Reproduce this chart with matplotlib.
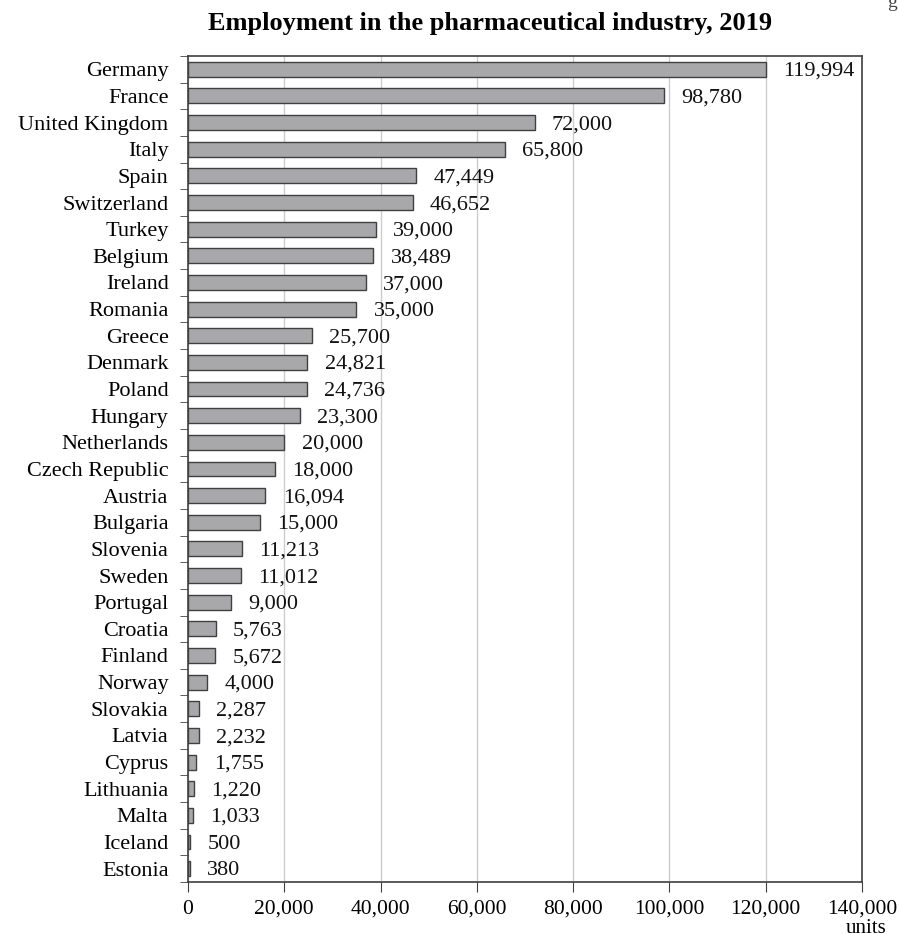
import numpy as np
import matplotlib.pyplot as plt

countries = ['Germany', 'France', 'United Kingdom', 'Italy', 'Spain', 'Switzerland',
             'Turkey', 'Belgium', 'Ireland', 'Romania', 'Greece', 'Denmark', 'Poland',
             'Hungary', 'Netherlands', 'Czech Republic', 'Austria', 'Bulgaria',
             'Slovenia', 'Sweden', 'Portugal', 'Croatia', 'Finland', 'Norway',
             'Slovakia', 'Latvia', 'Cyprus', 'Lithuania', 'Malta', 'Iceland', 'Estonia']
employment = [119994, 98780, 72000, 65800, 47449, 46652, 39000, 38489, 37000, 35000,
              25700, 24821, 24736, 23300, 20000, 18000, 16094, 15000, 11213, 11012,
              9000, 5763, 5672, 4000, 2287, 2232, 1755, 1220, 1033, 500, 380]

plt.rcParams['font.family'] = ['Liberation Serif', 'DejaVu Serif']

fig = plt.figure(figsize=(8.99, 9.34), dpi=100)
ax = fig.add_axes([0.2091, 0.0557, 0.7497, 0.8844])

y = np.arange(len(countries))
ax.barh(y, employment, height=0.56, color='#a8a7a9', edgecolor='#404040', linewidth=1.0, zorder=3)

# value labels just right of each bar
for yi, v in zip(y, employment):
    ax.text(v + 3600, yi + 0.08, f'{v:,}', va='center', ha='left', fontsize=16, color='#111111', zorder=4)

ax.set_xlim(0, 140000)
ax.set_ylim(len(countries) - 0.5, -0.5)
ax.set_xticks(np.arange(0, 140001, 20000))
ax.set_xticklabels([f'{v:,}' for v in range(0, 140001, 20000)], fontsize=15.5)
ax.set_yticks(y)
ax.set_yticklabels(countries, fontsize=16)
ax.set_yticks(np.arange(-0.5, len(countries), 1), minor=True)
ax.tick_params(axis='y', which='major', length=0, pad=14)
ax.tick_params(axis='y', which='minor', length=6, color='#404040', direction='out')
ax.tick_params(axis='x', length=7, color='#404040', pad=6)
ax.grid(axis='x', color='#cccccc', linewidth=1, zorder=0)
for s in ax.spines.values():
    s.set_color('#404040')
    s.set_linewidth(1.2)

fig.text(0.545, 0.975, 'Employment in the pharmaceutical industry, 2019', ha='center', va='center',
         fontsize=19, fontweight='bold')
fig.text(0.963, 0.016, 'units', ha='center', va='top', fontsize=15)
fig.text(0.992, 0.997, 'g', ha='center', va='center', fontsize=14, color='#444444')

fig.savefig('out.png', dpi=100)
